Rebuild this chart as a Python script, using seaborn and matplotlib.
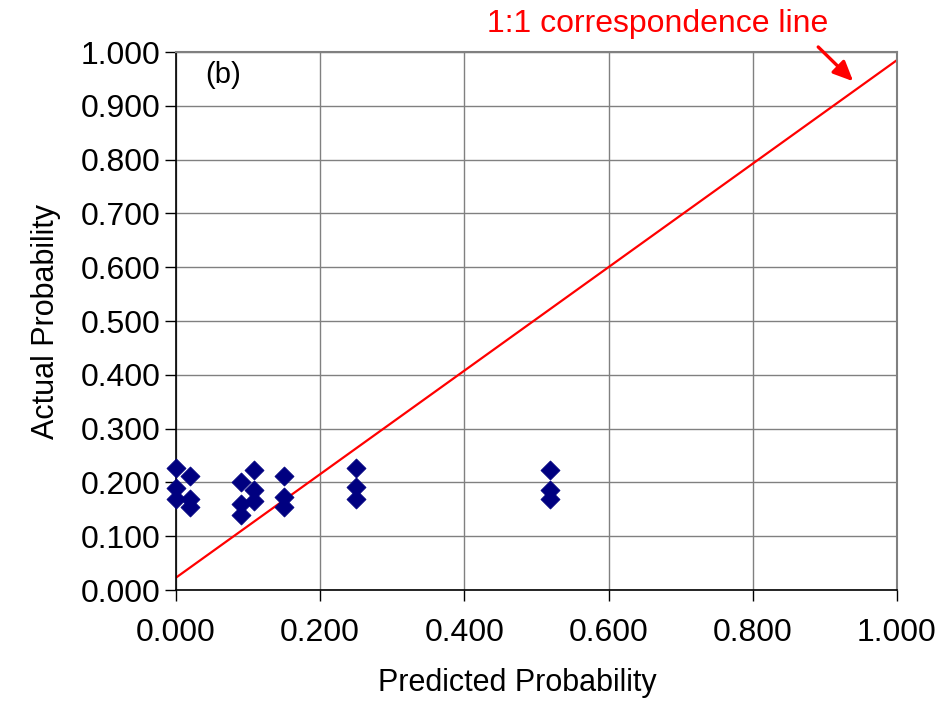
import matplotlib
matplotlib.use("Agg")
import matplotlib.pyplot as plt
import seaborn as sns
import pandas as pd
import numpy as np

predicted = [0.000, 0.000, 0.000, 0.019, 0.019, 0.019, 0.090, 0.090, 0.090,
             0.108, 0.108, 0.108, 0.150, 0.150, 0.150, 0.250, 0.250, 0.250,
             0.519, 0.519, 0.519]
actual = [0.226, 0.189, 0.169, 0.212, 0.170, 0.155, 0.201, 0.159, 0.139,
          0.224, 0.186, 0.166, 0.212, 0.172, 0.155, 0.226, 0.191, 0.169,
          0.223, 0.185, 0.169]
line_x = [0.0, 1.0]
line_y = [0.023, 0.985]
ticks = [0.0, 0.1, 0.2, 0.3, 0.4, 0.5, 0.6, 0.7, 0.8, 0.9, 1.0]
xticks = [0.0, 0.2, 0.4, 0.6, 0.8, 1.0]

sns.set_theme(style="white")
plt.rcParams['font.family'] = ['Liberation Sans', 'DejaVu Sans']
plt.rcParams['text.color'] = 'black'
plt.rcParams['axes.labelcolor'] = 'black'
plt.rcParams['xtick.color'] = 'black'
plt.rcParams['ytick.color'] = 'black'

df = pd.DataFrame({"Predicted": predicted, "Actual": actual})

fig = plt.figure(figsize=(9.37, 7.03), dpi=100)
ax = fig.add_axes([0.1878, 0.1607, 0.7695, 0.7653])

for t in ticks:
    ax.axhline(t, color="#808080", lw=1.0, zorder=0)
for t in xticks:
    ax.axvline(t, color="#808080", lw=1.0, zorder=0)

sns.lineplot(x=line_x, y=line_y, color="#ff0000", lw=1.6, ax=ax, zorder=2)
sns.scatterplot(data=df, x="Predicted", y="Actual", marker="D", s=95,
                color="#000080", edgecolor="#000080", linewidth=0.5, ax=ax,
                zorder=3, clip_on=False)

ax.set_xlim(0, 1.0)
ax.set_ylim(0, 1.0)
ax.set_xticks(xticks)
ax.set_yticks(ticks)
ax.set_xticklabels([f"{v:.3f}" for v in xticks], fontsize=23)
ax.set_yticklabels([f"{v:.3f}" for v in ticks], fontsize=23)
ax.tick_params(axis="both", direction="out", length=8, width=1, color="black",
               left=True, bottom=True, pad=3)
ax.tick_params(axis="x", pad=12)

for side in ["top", "right"]:
    ax.spines[side].set_color("#808080")
    ax.spines[side].set_linewidth(1.5)
for side in ["left", "bottom"]:
    ax.spines[side].set_color("black")
    ax.spines[side].set_linewidth(1.2)

ax.set_xlabel("Predicted Probability", fontsize=22)
ax.xaxis.set_label_coords((517 - 176) / 721, -(683 - 590) / 538 - 0.0)
ax.xaxis.label.set_va("center")
ax.set_ylabel("Actual Probability", fontsize=22, labelpad=14)

ax.text(0.04, 0.957, "(b)", fontsize=21, ha="left", va="center")

fig.text(658 / 937, 1 - 24 / 703, "1:1 correspondence line", color="#ff0000",
         fontsize=23, ha="center", va="center")
ax.annotate("", xy=(0.942, 0.942), xytext=(0.888, 1.013),
            xycoords="data", textcoords="data", annotation_clip=False,
            arrowprops=dict(arrowstyle="-|>,head_length=1.0,head_width=0.45",
                            color="#ff0000", lw=2.4))

fig.savefig("out.png", dpi=100)
